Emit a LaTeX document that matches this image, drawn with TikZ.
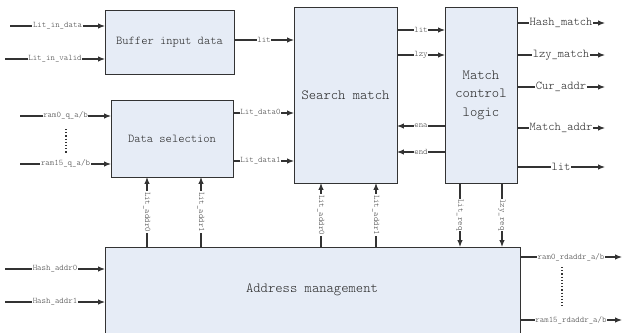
\documentclass[tikz,border=0pt]{standalone}
\usepackage{fontspec}
\setmonofont{Latin Modern Mono Light}
\usetikzlibrary{arrows.meta}
\definecolor{boxfill}{HTML}{E6ECF6}
\definecolor{edge}{HTML}{333333}
\begin{document}
\begin{tikzpicture}[x=1bp,y=-1bp,
  blk/.style={draw=edge,line width=1pt,fill=boxfill,inner sep=0pt},
  sig/.style={draw=edge,line width=1.1pt,-{Latex[length=7pt,width=5.5pt]}},
  lbl/.style={fill=white,inner sep=0.6pt,font=\fontsize{8.5}{9}\ttfamily,text=black!75},
  big/.style={font=\fontsize{12}{14}\ttfamily,text=black!85},
  huge/.style={font=\fontsize{14}{18.5}\ttfamily,align=center,text=black!85},
  outl/.style={big,fill=white,inner sep=0.5pt},
  dots/.style={draw=edge,line width=1.2pt,dotted}]
\useasboundingbox (0,0) rectangle (622,332);
\clip (0,0) rectangle (622,332);

% blocks
\draw[blk] (105,10) rectangle (234,74);
\node[big] (buf) at (169.5,42) {Buffer input data};
\draw[blk] (111,100) rectangle (233,177);
\node[big] (ds) at (172,138.5) {Data selection};
\draw[blk] (294,7) rectangle (397,183);
\node[huge] (sm) at (345.5,95) {Search match};
\draw[blk] (445,7) rectangle (517,183);
\node[huge] (mcl) at (481,95) {Match\\control\\logic};
\draw[blk] (105,247) rectangle (520,360);
\node[huge] (am) at (312,290) {Address management};

% inputs of the buffer
\coordinate (in1) at (10,26);
\coordinate (in2) at (5,59);
\draw[sig] (in1) -- node[lbl]{Lit\_in\_data} (105,26);
\draw[sig] (in2) -- node[lbl]{Lit\_in\_valid} (105,59);
\draw[sig] (234,40) -- node[lbl]{lit} (294,40);

% inputs of the data selection
\coordinate (r0) at (20,116);
\coordinate (r15) at (20,164);
\draw[sig] (r0) -- node[lbl]{ram0\_q\_a/b} (111,116);
\draw[sig] (r15) -- node[lbl]{ram15\_q\_a/b} (111,164);
\draw[dots] (66,129) -- (66,153);
\draw[sig] (233,113) -- node[lbl,pos=0.45]{Lit\_data0} (294,113);
\draw[sig] (233,161) -- node[lbl,pos=0.45]{Lit\_data1} (294,161);

% search match <-> match control
\draw[sig] (397,30) -- node[lbl]{lit} (445,30);
\draw[sig] (397,55) -- node[lbl]{lzy} (445,55);
\draw[sig] (445,126) -- node[lbl]{ena} (397,126);
\draw[sig] (445,152) -- node[lbl]{end} (397,152);

% outputs of match control
\draw[sig] (517,23) -- node[outl]{Hash\_match} (605,23);
\draw[sig] (517,55) -- node[outl]{lzy\_match} (605,55);
\draw[sig] (517,87) -- node[outl]{Cur\_addr} (605,87);
\draw[sig] (517,128) -- node[outl]{Match\_addr} (605,128);
\draw[sig] (517,167) -- node[outl]{lit} (605,167);

% address management links
\draw[sig] (147,247) -- node[lbl,rotate=-90]{Lit\_addr0} (147,177);
\draw[sig] (201,247) -- node[lbl,rotate=-90]{Lit\_addr1} (201,177);
\draw[sig] (321,247) -- node[lbl,rotate=-90]{Lit\_addr0} (321,183);
\draw[sig] (376,247) -- node[lbl,rotate=-90]{Lit\_addr1} (376,183);
\draw[sig] (460,183) -- node[lbl,rotate=-90]{Lit\_req} (460,247);
\draw[sig] (502,183) -- node[lbl,rotate=-90]{lzy\_req} (502,247);

% address management ports
\draw[sig] (5,269) -- node[lbl]{Hash\_addr0} (105,269);
\draw[sig] (5,302) -- node[lbl]{Hash\_addr1} (105,302);
\draw[sig] (520,257) -- node[lbl]{ram0\_rdaddr\_a/b} (622,257);
\draw[sig] (520,320) -- node[lbl]{ram15\_rdaddr\_a/b} (622,320);
\draw[dots] (562,267) -- (562,307);
\end{tikzpicture}
\end{document}
